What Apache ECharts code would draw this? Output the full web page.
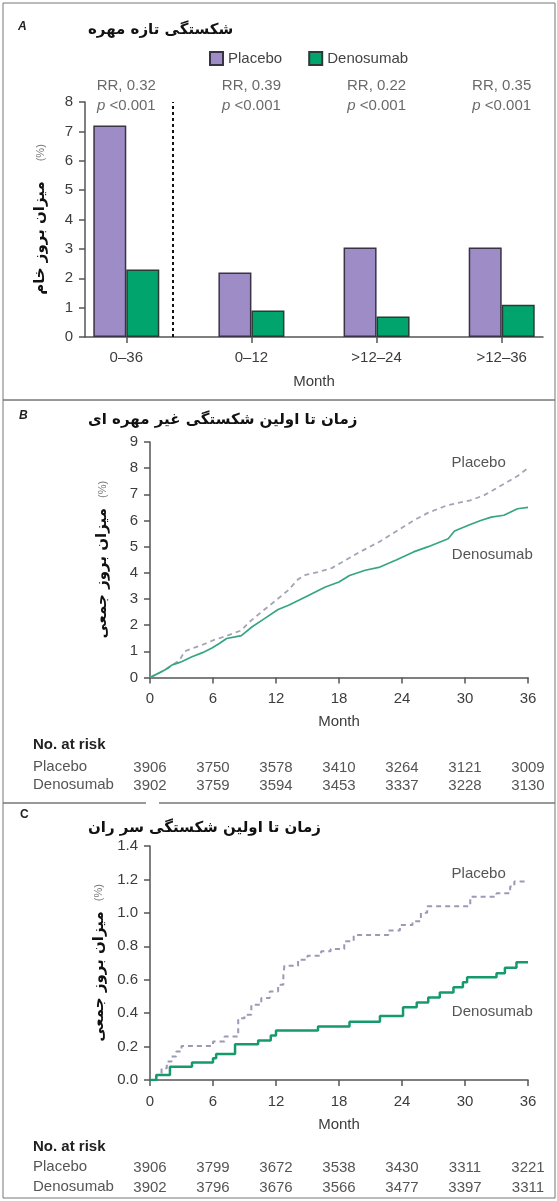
<!DOCTYPE html>
<html>
<head>
<meta charset="utf-8">
<script src="https://cdn.jsdelivr.net/npm/echarts@6/dist/echarts.min.js"></script>
<style>
html, body { margin: 0; padding: 0; background: #fff; }
#main { width: 557px; height: 1201px; }
</style>
</head>
<body>
<div id="main"></div>
<script>
// panel A - new vertebral fracture
var periods = ['0–36', '0–12', '>12–24', '>12–36'];
var placeboRate = [7.2, 2.2, 3.05, 3.05];
var denosumabRate = [2.3, 0.9, 0.7, 1.1];
var rrValues = ['0.32', '0.39', '0.22', '0.35'];
var pValues = ['<0.001', '<0.001', '<0.001', '<0.001'];

// panel B - time to first nonvertebral fracture [month, %]
var placeboNonVert = [[0,0],[1,0.2],[2,0.45],[2.8,0.65],[3.3,1.0],[4.3,1.15],[5,1.25],[6,1.42],[7,1.55],[8,1.7],[8.7,1.8],[9.4,2.1],[10.6,2.5],[12,2.95],[13.2,3.35],[14.1,3.75],[14.8,3.92],[16,4.03],[17.3,4.18],[18.6,4.48],[20,4.8],[21.9,5.2],[23.5,5.6],[25.1,6.0],[26.5,6.3],[28.3,6.58],[30.5,6.77],[31.8,6.96],[33.7,7.4],[35,7.7],[36,8.0]];
var denosumabNonVert = [[0,0],[0.5,0.1],[1.1,0.22],[1.7,0.35],[2.1,0.48],[2.7,0.56],[3,0.6],[4,0.79],[5,0.95],[5.9,1.13],[6.6,1.3],[7.3,1.49],[8.1,1.55],[8.7,1.6],[9.7,1.93],[10.9,2.25],[12.2,2.6],[13.2,2.76],[14.8,3.08],[16.7,3.46],[18,3.65],[19,3.9],[20.5,4.1],[21.9,4.22],[23.5,4.5],[25.1,4.8],[26.5,5.0],[28.4,5.3],[29,5.6],[30.5,5.85],[31.5,6.0],[32.5,6.13],[33.7,6.2],[35,6.45],[36,6.5]];

// panel C - time to first hip fracture [month, %]
var placeboHip = [[0,0],[0.6,0.03],[1.1,0.07],[1.6,0.11],[2.05,0.14],[2.5,0.17],[3.0,0.204],[6.0,0.23],[7.1,0.26],[8.4,0.37],[9.0,0.39],[9.65,0.45],[10.6,0.49],[11.4,0.53],[12.2,0.57],[12.7,0.63],[12.8,0.684],[14.1,0.72],[15.0,0.744],[16.3,0.77],[17.2,0.784],[18.5,0.83],[19.4,0.867],[22.7,0.894],[23.8,0.928],[25.0,0.95],[25.8,1.0],[26.4,1.04],[30.5,1.097],[33.0,1.117],[34.3,1.157],[34.7,1.187],[36,1.19]];
var denosumabHip = [[0,0],[0.6,0.03],[1.9,0.08],[4.0,0.104],[6.0,0.13],[6.3,0.155],[8.1,0.214],[10.3,0.236],[11.5,0.266],[12.0,0.296],[16.0,0.32],[19.0,0.349],[21.9,0.383],[24.1,0.435],[25.4,0.463],[26.5,0.493],[27.6,0.523],[28.9,0.555],[29.8,0.585],[30.2,0.614],[33.0,0.638],[33.8,0.672],[34.9,0.704],[36,0.704]];

// number at risk
var monthTicks = [0, 6, 12, 18, 24, 30, 36];
var riskPlaceboB = [3906, 3750, 3578, 3410, 3264, 3121, 3009];
var riskDenosumabB = [3902, 3759, 3594, 3453, 3337, 3228, 3130];
var riskPlaceboC = [3906, 3799, 3672, 3538, 3430, 3311, 3221];
var riskDenosumabC = [3902, 3796, 3676, 3566, 3477, 3397, 3311];

var latin = 'Liberation Sans, Arial, sans-serif';
var persian = 'DejaVu Sans, sans-serif';
var axisColor = '#555';
var textColor = '#3c3c3c';

var myChart = echarts.init(document.getElementById('main'));

function yName(txt, gap) {
  return '{b|' + txt + '}' + gap + '{p|(%)}';
}
var yNameStyle = {
  rich: {
    b: { fontFamily: persian, fontWeight: 'bold', fontSize: 15, color: '#111' },
    p: { fontFamily: latin, fontSize: 11, color: '#777' }
  }
};
function monthAxis(grid) {
  return {
    gridIndex: grid, type: 'value', min: 0, max: 36, interval: 6,
    name: 'Month', nameLocation: 'middle', nameGap: 37,
    nameTextStyle: { fontFamily: latin, fontSize: 15, color: textColor },
    axisLine: { lineStyle: { color: axisColor, width: 1.5 } },
    axisTick: { length: 6, lineStyle: { color: axisColor, width: 1.5 } },
    axisLabel: { margin: 14, fontFamily: latin, fontSize: 15, color: textColor },
    splitLine: { show: false }
  };
}
function riskAxis(grid, offset, counts) {
  return {
    gridIndex: grid, type: 'value', min: 0, max: 36, position: 'bottom', offset: offset,
    axisLine: { show: false }, axisTick: { show: false }, splitLine: { show: false },
    axisLabel: {
      customValues: monthTicks, margin: 0, fontFamily: latin, fontSize: 15, color: '#555',
      formatter: function (v) { return counts[monthTicks.indexOf(v)]; }
    }
  };
}
function valueAxis(grid, max, interval, name, gap, fmt) {
  return {
    gridIndex: grid, type: 'value', min: 0, max: max, interval: interval,
    name: name, nameLocation: 'middle', nameGap: gap, nameTextStyle: yNameStyle,
    axisLine: { show: true, onZero: false, lineStyle: { color: axisColor, width: 1.5 } },
    axisTick: { show: true, length: 6, lineStyle: { color: axisColor, width: 1.5 } },
    axisLabel: { margin: 12, fontFamily: latin, fontSize: 15, color: textColor, formatter: fmt },
    splitLine: { show: false }
  };
}
function endLabel(name, coord) {
  return {
    symbol: 'circle', symbolSize: 0, silent: true,
    label: { show: true, position: 'inside', formatter: '{b}', fontFamily: latin, fontSize: 15, color: '#555' },
    data: [{ name: name, coord: coord }]
  };
}

var option = {
  animation: false,
  backgroundColor: '#fff',
  graphic: [
    { type: 'rect', shape: { x: 3, y: 3, width: 552, height: 397 }, style: { fill: null, stroke: '#777', lineWidth: 1 } },
    { type: 'rect', shape: { x: 3, y: 400, width: 552, height: 403 }, style: { fill: null, stroke: '#777', lineWidth: 1 } },
    { type: 'rect', shape: { x: 3, y: 803, width: 552, height: 395 }, style: { fill: null, stroke: '#777', lineWidth: 1 } },
    { type: 'rect', shape: { x: 146, y: 801, width: 13, height: 4 }, style: { fill: '#fff' } },
    { type: 'text', left: 18, top: 21, style: { text: 'A', font: 'italic bold 12px ' + latin, fill: '#222' } },
    { type: 'text', left: 88, top: 23, style: { text: 'شکستگی تازه مهره', font: 'bold 15px ' + persian, fill: '#111' } },
    { type: 'text', left: 19, top: 410, style: { text: 'B', font: 'italic bold 12px ' + latin, fill: '#222' } },
    { type: 'text', left: 88, top: 413, style: { text: 'زمان تا اولین شکستگی غیر مهره ای', font: 'bold 15px ' + persian, fill: '#111' } },
    { type: 'text', left: 20, top: 809, style: { text: 'C', font: 'bold 12px ' + latin, fill: '#222' } },
    { type: 'text', left: 88, top: 821, style: { text: 'زمان تا اولین شکستگی سر ران', font: 'bold 15px ' + persian, fill: '#111' } },
    { type: 'text', left: 33, top: 737, style: { text: 'No. at risk', font: 'bold 15px ' + latin, fill: '#222' } },
    { type: 'text', left: 33, top: 759, style: { text: 'Placebo', font: '15px ' + latin, fill: '#555' } },
    { type: 'text', left: 33, top: 777, style: { text: 'Denosumab', font: '15px ' + latin, fill: '#555' } },
    { type: 'text', left: 33, top: 1139, style: { text: 'No. at risk', font: 'bold 15px ' + latin, fill: '#222' } },
    { type: 'text', left: 33, top: 1159, style: { text: 'Placebo', font: '15px ' + latin, fill: '#555' } },
    { type: 'text', left: 33, top: 1179, style: { text: 'Denosumab', font: '15px ' + latin, fill: '#555' } }
  ],
  legend: {
    data: ['Placebo', 'Denosumab'],
    left: 204, top: 46, itemWidth: 13, itemHeight: 13, itemGap: 26, icon: 'rect',
    textStyle: { fontFamily: latin, fontSize: 15, color: '#444' }
  },
  grid: [
    { left: 85, right: 14, top: 102, height: 235 },
    { left: 150, right: 29, top: 442, height: 235.5 },
    { left: 150, right: 29, top: 846, height: 234 }
  ],
  xAxis: [
    {
      gridIndex: 0, type: 'value', min: -0.33, max: 3.33,
      name: 'Month', nameLocation: 'middle', nameGap: 37,
      nameTextStyle: { fontFamily: latin, fontSize: 15, color: textColor },
      axisLine: { lineStyle: { color: axisColor, width: 1.5 } },
      axisTick: { length: 6, customValues: [0, 1, 2, 3], lineStyle: { color: axisColor, width: 1.5 } },
      axisLabel: {
        customValues: [0, 1, 2, 3], margin: 13, fontFamily: latin, fontSize: 15, color: textColor,
        formatter: function (v) { return periods[Math.round(v)]; }
      },
      splitLine: { show: false }
    },
    monthAxis(1),
    riskAxis(1, 83, riskPlaceboB),
    riskAxis(1, 101, riskDenosumabB),
    monthAxis(2),
    riskAxis(2, 80, riskPlaceboC),
    riskAxis(2, 100, riskDenosumabC)
  ],
  yAxis: [
    valueAxis(0, 8, 1, yName('میزان بروز خام', '      '), 37),
    valueAxis(1, 9, 1, yName('میزان بروز جمعی', '   '), 40),
    valueAxis(2, 1.4, 0.2, yName('میزان بروز جمعی', '   '), 43, function (v) { return v.toFixed(1); })
  ],
  series: [
    {
      name: 'Placebo', type: 'bar', xAxisIndex: 0, yAxisIndex: 0,
      barWidth: 33, barGap: '0%',
      itemStyle: { color: '#9d8cc6', borderColor: '#3a3346', borderWidth: 1.5 },
      data: placeboRate.map(function (v, i) { return [i, v]; }),
      markLine: {
        silent: true, symbol: 'none', label: { show: false },
        lineStyle: { type: [3, 3], color: '#111', width: 2 },
        data: [{ xAxis: 0.5 }]
      }
    },
    {
      name: 'Denosumab', type: 'bar', xAxisIndex: 0, yAxisIndex: 0,
      barWidth: 33, barGap: '0%',
      itemStyle: { color: '#00a46c', borderColor: '#2c3a33', borderWidth: 1.5 },
      data: denosumabRate.map(function (v, i) { return [i, v]; })
    },
    {
      name: 'RR', type: 'scatter', xAxisIndex: 0, yAxisIndex: 0,
      symbolSize: 0, silent: true, clip: false,
      label: {
        show: true, position: 'inside', offset: [0, -6], lineHeight: 20,
        fontFamily: latin, fontSize: 15, color: '#444',
        formatter: function (p) {
          return 'RR, ' + rrValues[p.dataIndex] + '\n{i|p} ' + pValues[p.dataIndex];
        },
        rich: { i: { fontStyle: 'italic', fontFamily: latin, fontSize: 15, color: '#444', lineHeight: 20 } }
      },
      data: periods.map(function (c, i) { return [i, 8]; })
    },
    {
      name: 'Placebo B', type: 'line', xAxisIndex: 1, yAxisIndex: 1,
      showSymbol: false, silent: true,
      lineStyle: { color: '#a7a3b6', width: 1.8, type: [5, 4] },
      data: placeboNonVert,
      markPoint: endLabel('Placebo', [31.3, 8.2])
    },
    {
      name: 'Denosumab B', type: 'line', xAxisIndex: 1, yAxisIndex: 1,
      showSymbol: false, silent: true,
      lineStyle: { color: '#35a681', width: 1.7 },
      data: denosumabNonVert,
      markPoint: endLabel('Denosumab', [32.6, 4.7])
    },
    {
      name: 'Placebo C', type: 'line', xAxisIndex: 4, yAxisIndex: 2,
      showSymbol: false, silent: true, step: 'end',
      lineStyle: { color: '#9d98b8', width: 2, type: [5, 4] },
      data: placeboHip,
      markPoint: endLabel('Placebo', [31.3, 1.233])
    },
    {
      name: 'Denosumab C', type: 'line', xAxisIndex: 4, yAxisIndex: 2,
      showSymbol: false, silent: true, step: 'end',
      lineStyle: { color: '#169a6b', width: 2.5 },
      data: denosumabHip,
      markPoint: endLabel('Denosumab', [32.6, 0.407])
    }
  ]
};
myChart.setOption(option);
</script>
</body>
</html>
